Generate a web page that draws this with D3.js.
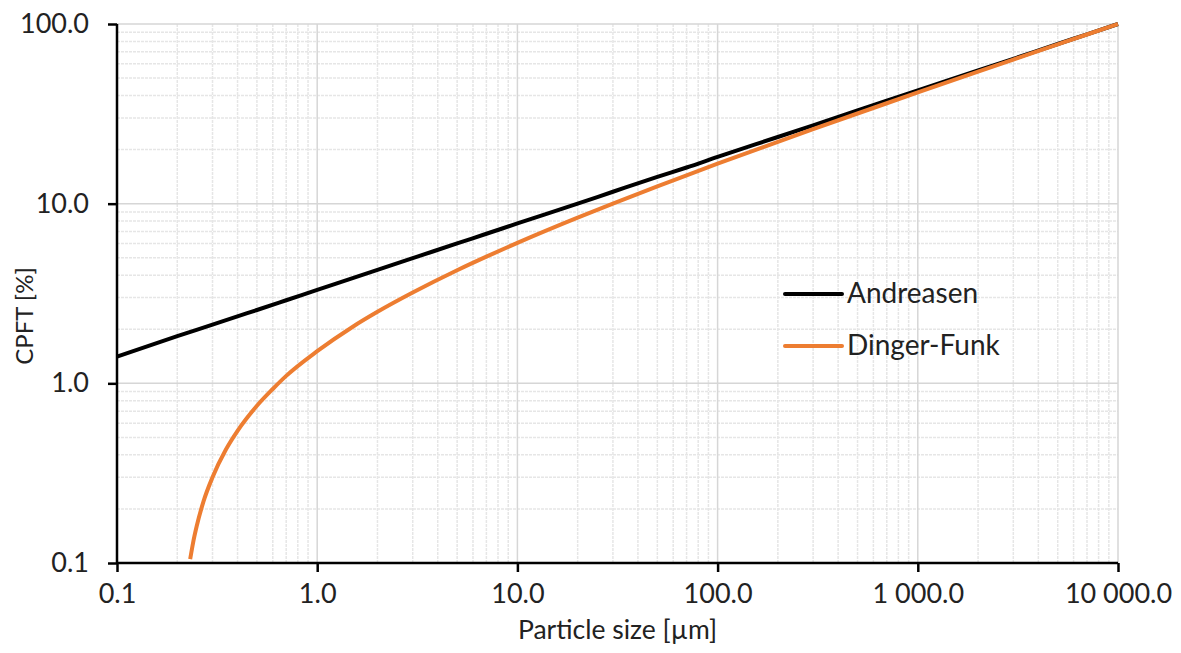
<!DOCTYPE html>
<html><head><meta charset="utf-8">
<script src="https://cdn.jsdelivr.net/npm/d3@7"></script>
<style>body{margin:0;background:#fff}svg{display:block}text{font-family:Lato,"Open Sans",sans-serif;fill:#222}</style>
</head><body>
<svg id="c" width="1181" height="653"></svg>
<script>
// Data
const sizes = [0.1,0.2,0.3,0.5,0.7,1,2,3,5,7,10,20,30,50,70,100,200,300,500,700,1000,2000,3000,5000,7000,10000];
const andreasen = [1.41,1.83,2.12,2.56,2.90,3.31,4.28,4.97,6.01,6.80,7.76,10.0,11.65,14.1,15.9,18.2,23.5,27.3,33.0,37.4,42.7,55.1,64.0,77.4,87.6,100];
const dfSizes = [0.232,0.24,0.25,0.27,0.3,0.35,0.4,0.5,0.6,0.7,1,1.5,2,3,5,7,10,20,30,50,70,100,200,300,500,700,1000,2000,3000,5000,7000,10000];
const dingerFunk = [0.105,0.13,0.16,0.219,0.30,0.428,0.544,0.75,0.93,1.10,1.51,2.06,2.50,3.20,4.26,5.07,6.05,8.36,10.01,12.48,14.38,16.68,22.09,25.97,31.76,36.22,41.59,54.29,63.39,76.96,87.42,100];
const xTicks = [0.1,1,10,100,1000,10000];
const xTickLabels = ["0.1","1.0","10.0","100.0","1 000.0","10 000.0"];
const yTicks = [0.1,1,10,100];
const yTickLabels = ["0.1","1.0","10.0","100.0"];
const seriesNames = ["Andreasen","Dinger-Funk"];
const seriesColors = ["#000000","#ED7D31"];

const svg = d3.select("#c");
const L=117, R=1118, T=24, B=563;
const x = d3.scaleLog().domain([0.1,10000]).range([L,R]);
const y = d3.scaleLog().domain([0.1,100]).range([B,T]);

// minor values
const minorX=[], minorY=[];
for (let d=0.1; d<10000; d*=10) for (let k=2;k<=9;k++) minorX.push(d*k);
for (let d=0.1; d<100; d*=10) for (let k=2;k<=9;k++) minorY.push(d*k);

const g = svg.append("g");
g.selectAll(".mx").data(minorX).join("line")
  .attr("x1",d=>x(d)).attr("x2",d=>x(d)).attr("y1",T).attr("y2",B)
  .attr("stroke","#e6e6e6").attr("stroke-width",1.5).attr("stroke-dasharray","3,1");
g.selectAll(".my").data(minorY).join("line")
  .attr("y1",d=>y(d)).attr("y2",d=>y(d)).attr("x1",L).attr("x2",R)
  .attr("stroke","#e6e6e6").attr("stroke-width",1.5).attr("stroke-dasharray","3,1");
g.selectAll(".Mx").data(xTicks).join("line")
  .attr("x1",d=>x(d)).attr("x2",d=>x(d)).attr("y1",T).attr("y2",B)
  .attr("stroke","#d6d6d6").attr("stroke-width",1.5);
g.selectAll(".My").data(yTicks).join("line")
  .attr("y1",d=>y(d)).attr("y2",d=>y(d)).attr("x1",L).attr("x2",R)
  .attr("stroke","#d6d6d6").attr("stroke-width",1.5);

// lines
const line = d3.line().x(d=>x(d[0])).y(d=>y(d[1])).curve(d3.curveMonotoneX);
const series = [sizes.map((s,i)=>[s,andreasen[i]]), dfSizes.map((s,i)=>[s,dingerFunk[i]])];
series.forEach((s,i)=>{
  svg.append("path").datum(s).attr("d",line).attr("fill","none")
    .attr("stroke",seriesColors[i]).attr("stroke-width",4).attr("stroke-linejoin","round");
});

// axes
const xAxis = d3.axisBottom(x).tickValues(xTicks).tickFormat((d,i)=>xTickLabels[i]).tickSize(9).tickPadding(12);
const yAxis = d3.axisLeft(y).tickValues(yTicks).tickFormat((d,i)=>yTickLabels[i]).tickSize(9).tickPadding(19);
const gx = svg.append("g").attr("transform",`translate(0,${B})`).call(xAxis);
const gy = svg.append("g").attr("transform",`translate(${L},0)`).call(yAxis);
[gx,gy].forEach(a=>{
  a.select(".domain").attr("stroke","#000").attr("stroke-width",2.5);
  a.selectAll(".tick line").attr("stroke","#000").attr("stroke-width",2.5);
  a.selectAll(".tick text").style("font-family","Lato, sans-serif").style("font-size","27px").attr("fill","#222");
});
gx.select(".domain").attr("d",`M${L},0H${R}`);
gy.select(".domain").attr("d",`M0,${B}V${T}`);

// titles
svg.append("text").attr("x",(L+R)/2).attr("y",639).attr("text-anchor","middle")
  .style("font-size","26.5px").text("Particle size [µm]");
svg.append("text").attr("transform","translate(33,316) rotate(-90)").attr("text-anchor","middle")
  .style("font-size","24px").text("CPFT [%]");

// legend
seriesNames.forEach((n,i)=>{
  const ly = 294 + i*52;
  svg.append("line").attr("x1",785).attr("x2",842).attr("y1",ly).attr("y2",ly)
    .attr("stroke",seriesColors[i]).attr("stroke-width",4).attr("stroke-linecap","round");
  svg.append("text").attr("x",847).attr("y",ly+9).style("font-size","28px").text(n);
});
</script>
</body></html>
